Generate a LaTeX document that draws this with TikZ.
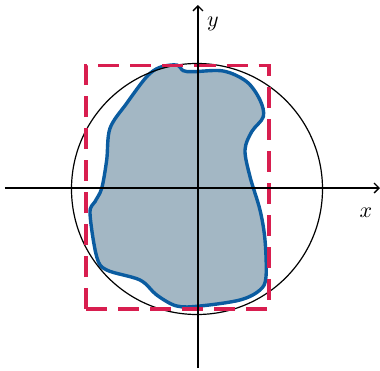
\documentclass[tikz,border=0pt]{standalone}
\usepackage{tikz}
\usetikzlibrary{arrows.meta,positioning,calc}
\definecolor{MyBlue}{HTML}{0B5CA0}
\definecolor{MyFill}{HTML}{A3B7C4}
\definecolor{MyRed}{HTML}{D81E4F}
\tikzset{
	axisline/.style={line width=1.3pt, -{Straight Barb[length=5pt, width=10pt, line width=1.3pt]}},
	boxline/.style={MyRed, line width=3.8pt, dash pattern=on 21pt off 11pt},
	blobline/.style={MyBlue, line width=3.4pt, fill=MyFill},
}

\begin{document}
\begin{tikzpicture}[x=1pt, y=1pt, every node/.style={scale=2.2, black}]
			\useasboundingbox (-198,-182) rectangle (182,188);
			
			% region
			\draw[blobline] plot[smooth cycle, tension=0.55] coordinates {
				(-21.3,123) (-14.7,117.3) (-4.7,116.3) (25.3,117) (48.7,106.3) (62,88)
				(65.3,71.3) (53.7,56.3) (47,38) (52,11.3) (62,-22) (67,-52) (68,-88.7)
				(62,-102) (42,-112) (2,-118) (-21.3,-118) (-41.3,-107) (-58,-92)
				(-91.3,-82) (-101.3,-68.7) (-108,-25.3) (-103,-13.7) (-96.3,-0.3)
				(-91.3,28) (-88,59.7) (-71.3,84.7) (-51.3,111.3) (-38,120.7)};
			
			\draw[line width=1.2pt] (-1,-1) circle (125.5);
			%
			\draw[boxline] (-112,-121) rectangle (71,122.5);
			
			% axes
			\coordinate (xstart) at (-193,0);
			\coordinate (xend) at (182,0);
			\coordinate (ystart) at (0,-180);
			\coordinate (yend) at (0,183);
			\draw[axisline] (xstart) -- (xend);
			\draw[axisline] (ystart) -- (yend);
			\node (xlabel) at (168,-25) {$x$};
			\node (ylabel) at (15,164) {$y$};
		\end{tikzpicture}
\end{document}
